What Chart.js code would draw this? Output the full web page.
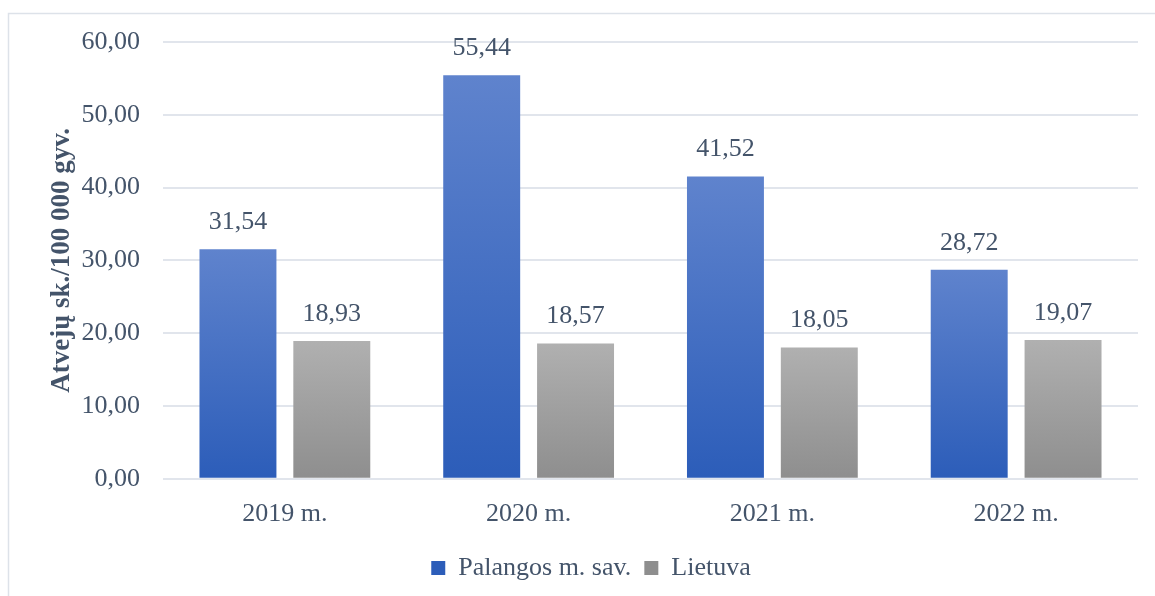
<!DOCTYPE html>
<html>
<head>
<meta charset="utf-8">
<script src="https://cdn.jsdelivr.net/npm/chart.js@4"></script>
<style>
  html, body { margin: 0; padding: 0; background: #fff; }
  #wrap { width: 1155px; height: 596px; position: relative; }
</style>
</head>
<body>
<div id="wrap"><canvas id="chart"></canvas></div>
<script>
// sergamumas, atvejų sk. 100 000 gyv.
const metai = ["2019 m.", "2020 m.", "2021 m.", "2022 m."];
const palanga = [31.54, 55.44, 41.52, 28.72];
const lietuva = [18.93, 18.57, 18.05, 19.07];
const serijos = ["Palangos m. sav.", "Lietuva"];

const SERIF = '"Liberation Serif", "Times New Roman", serif';
const TEXT = "#44546a";

const fmt = v => v.toFixed(2).replace(".", ",");

// vertikalus gradientas kiekvienam stulpeliui
function gradientas(virsus, apacia, vidurys) {
  return ctx => {
    const chart = ctx.chart;
    if (!chart.chartArea || ctx.raw === undefined) return vidurys;
    const y = chart.scales.y;
    const g = chart.ctx.createLinearGradient(0, y.getPixelForValue(ctx.raw), 0, y.getPixelForValue(0));
    g.addColorStop(0, virsus);
    g.addColorStop(1, apacia);
    return g;
  };
}

// rėmelis aplink diagramą
const remelis = {
  id: "remelis",
  beforeDraw(chart) {
    const c = chart.ctx;
    c.save();
    c.strokeStyle = "#dde2e9";
    c.lineWidth = 1.5;
    c.beginPath();
    c.moveTo(8.5, chart.height + 5);
    c.lineTo(8.5, 13.5);
    c.lineTo(chart.width + 5, 13.5);
    c.stroke();
    c.restore();
  }
};

// reikšmės virš stulpelių
const reiksmes = {
  id: "reiksmes",
  afterDatasetsDraw(chart) {
    const c = chart.ctx;
    c.save();
    c.font = "26px " + SERIF;
    c.fillStyle = TEXT;
    c.textAlign = "center";
    c.textBaseline = "middle";
    chart.data.datasets.forEach((ds, i) => {
      chart.getDatasetMeta(i).data.forEach((bar, j) => {
        c.fillText(fmt(ds.data[j]), bar.x, bar.y - 27);
      });
    });
    c.restore();
  }
};

new Chart(document.getElementById("chart"), {
  type: "bar",
  data: {
    labels: metai,
    datasets: [
      {
        label: serijos[0],
        data: palanga,
        backgroundColor: gradientas("#5f83cd", "#2c5db9", "#4571c4")
      },
      {
        label: serijos[1],
        data: lietuva,
        backgroundColor: gradientas("#b0b0b0", "#8e8e8e", "#a0a0a0")
      }
    ]
  },
  options: {
    responsive: true,
    maintainAspectRatio: false,
    animation: false,
    categoryPercentage: 0.77,
    barPercentage: 0.82,
    layout: { padding: { left: 44, right: 17, top: 42, bottom: 5 } },
    plugins: {
      tooltip: { enabled: false },
      legend: {
        position: "bottom",
        labels: {
          boxWidth: 14,
          boxHeight: 14,
          padding: 13,
          color: TEXT,
          font: { family: SERIF, size: 26 }
        }
      }
    },
    scales: {
      x: {
        grid: { display: false },
        border: { display: false },
        ticks: { color: TEXT, font: { family: SERIF, size: 26 }, padding: 12 }
      },
      y: {
        min: 0,
        max: 60,
        afterFit(scale) { scale.width = 119; },
        border: { display: false },
        grid: { color: "#e1e5ec", lineWidth: 2, drawTicks: false },
        ticks: {
          stepSize: 10,
          color: TEXT,
          padding: 23,
          font: { family: SERIF, size: 26 },
          callback: v => fmt(v)
        },
        title: {
          display: true,
          text: "Atvejų sk./100 000 gyv.",
          color: TEXT,
          font: { family: SERIF, size: 27, weight: "bold" },
          padding: { top: 2, bottom: 0 }
        }
      }
    }
  },
  plugins: [remelis, reiksmes]
});
</script>
</body>
</html>
